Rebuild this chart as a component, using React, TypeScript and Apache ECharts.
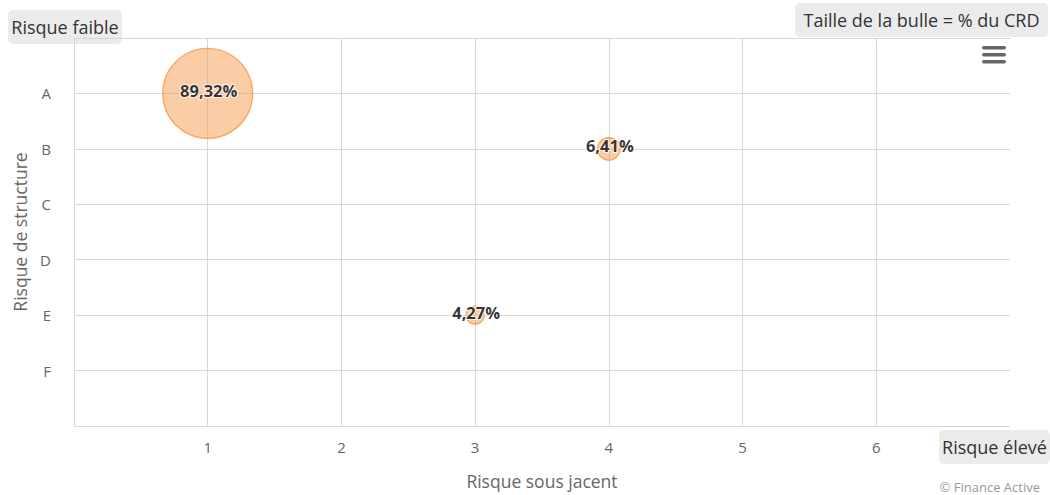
import React, { useEffect, useRef } from "react";
import * as echarts from "echarts";

const structureCategories = ["", "A", "B", "C", "D", "E", "F", ""];
const xTickLabels = ["", "1", "2", "3", "4", "5", "6", ""];
// [risque sous jacent, risque de structure index (A=1), % du CRD]
const bubbleX = [1, 4, 3];
const bubbleY = [1, 2, 5];
const bubbleZ = [89.32, 6.41, 4.27];
const bubbleLabels = ["89,32%", "6,41%", "4,27%"];

const FONT = "'Open Sans', 'DejaVu Sans', sans-serif";

export default function App() {
  const ref = useRef<HTMLDivElement>(null);
  useEffect(() => {
    if (!ref.current) return;
    const chart = echarts.init(ref.current, null, { renderer: "svg" });
    const zMin = Math.min(...bubbleZ);
    const zMax = Math.max(...bubbleZ);
    const minD = 18;
    const maxD = 90;
    const sizeOf = (z: number) =>
      minD + ((maxD - minD) * (Math.sqrt(z) - Math.sqrt(zMin))) / (Math.sqrt(zMax) - Math.sqrt(zMin));
    const data = bubbleX.map((x, i) => ({
      value: [x, bubbleY[i], bubbleZ[i]],
      label: { formatter: bubbleLabels[i] },
    }));
    const labelBox = (text: string, left: number, top: number, w: number, h: number) => ({
      type: "group",
      left,
      top,
      children: [
        { type: "rect", shape: { x: 0, y: 0, width: w, height: h, r: 5 }, style: { fill: "#ebebeb" } },
        {
          type: "text",
          x: w / 2,
          y: h / 2,
          style: { text, fill: "#333", font: `18px ${FONT}`, align: "center", verticalAlign: "middle" },
        },
      ],
    });
    chart.setOption({
      animation: false,
      grid: { left: 74, right: 40, top: 38, bottom: 66, containLabel: false },
      xAxis: {
        type: "value",
        min: 0,
        max: 7,
        interval: 1,
        name: "Risque sous jacent",
        nameLocation: "middle",
        nameGap: 46,
        nameTextStyle: { color: "#666", fontSize: 17.5, fontFamily: FONT },
        axisLine: { show: true, lineStyle: { color: "#ccd6eb", width: 1 } },
        axisTick: { show: true, length: 12, lineStyle: { color: "#ccd6eb" }, customValues: [0, 1, 2, 3, 4, 5, 6] },
        axisLabel: {
          color: "#666",
          fontSize: 15,
          fontFamily: FONT,
          margin: 13,
          formatter: (v: number) => xTickLabels[v] ?? "",
        },
        splitLine: { show: true, lineStyle: { color: "#d8d8d8", width: 1 } },
      },
      yAxis: {
        type: "value",
        min: 0,
        max: 7,
        interval: 1,
        inverse: true,
        name: "Risque de structure",
        nameLocation: "middle",
        nameGap: 45,
        nameRotate: 90,
        nameTextStyle: { color: "#666", fontSize: 17.5, fontFamily: FONT },
        axisLine: { show: false },
        axisTick: { show: false },
        axisLabel: {
          color: "#666",
          fontSize: 15,
          fontFamily: FONT,
          margin: 23,
          formatter: (v: number) => structureCategories[v] ?? "",
        },
        splitLine: { show: true, lineStyle: { color: "#d8d8d8", width: 1 } },
      },
      series: [
        {
          type: "scatter",
          data,
          symbolSize: (val: number[]) => sizeOf(val[2]),
          itemStyle: { color: "rgba(247,150,70,0.6)", borderColor: "#f7963c", borderWidth: 1.3 },
          label: {
            show: true,
            position: "inside",
            offset: [1, -3],
            color: "#000",
            fontSize: 16.5,
            fontWeight: "bold",
            fontFamily: FONT,
            textBorderColor: "#fff",
            textBorderWidth: 2,
          },
        },
      ],
      graphic: [
        labelBox("Risque faible", 8, 10, 114, 34),
        labelBox("Taille de la bulle = % du CRD", 795, 3, 253, 34),
        labelBox("Risque élevé", 939, 430, 111, 34),
        { type: "rect", left: 982, top: 46, shape: { width: 24, height: 3.5, r: 1.75 }, style: { fill: "#666" } },
        { type: "rect", left: 982, top: 53, shape: { width: 24, height: 3.5, r: 1.75 }, style: { fill: "#666" } },
        { type: "rect", left: 982, top: 60, shape: { width: 24, height: 3.5, r: 1.75 }, style: { fill: "#666" } },
        {
          type: "text",
          x: 1040,
          y: 487,
          style: {
            text: "© Finance Active",
            fill: "#999",
            font: `13px ${FONT}`,
            align: "right",
            verticalAlign: "middle",
          },
        },
      ],
    });
    return () => chart.dispose();
  }, []);
  return (
    <div
      ref={ref}
      style={{ position: "fixed", left: 0, top: 0, width: 1050, height: 495, background: "#fff" }}
    />
  );
}
